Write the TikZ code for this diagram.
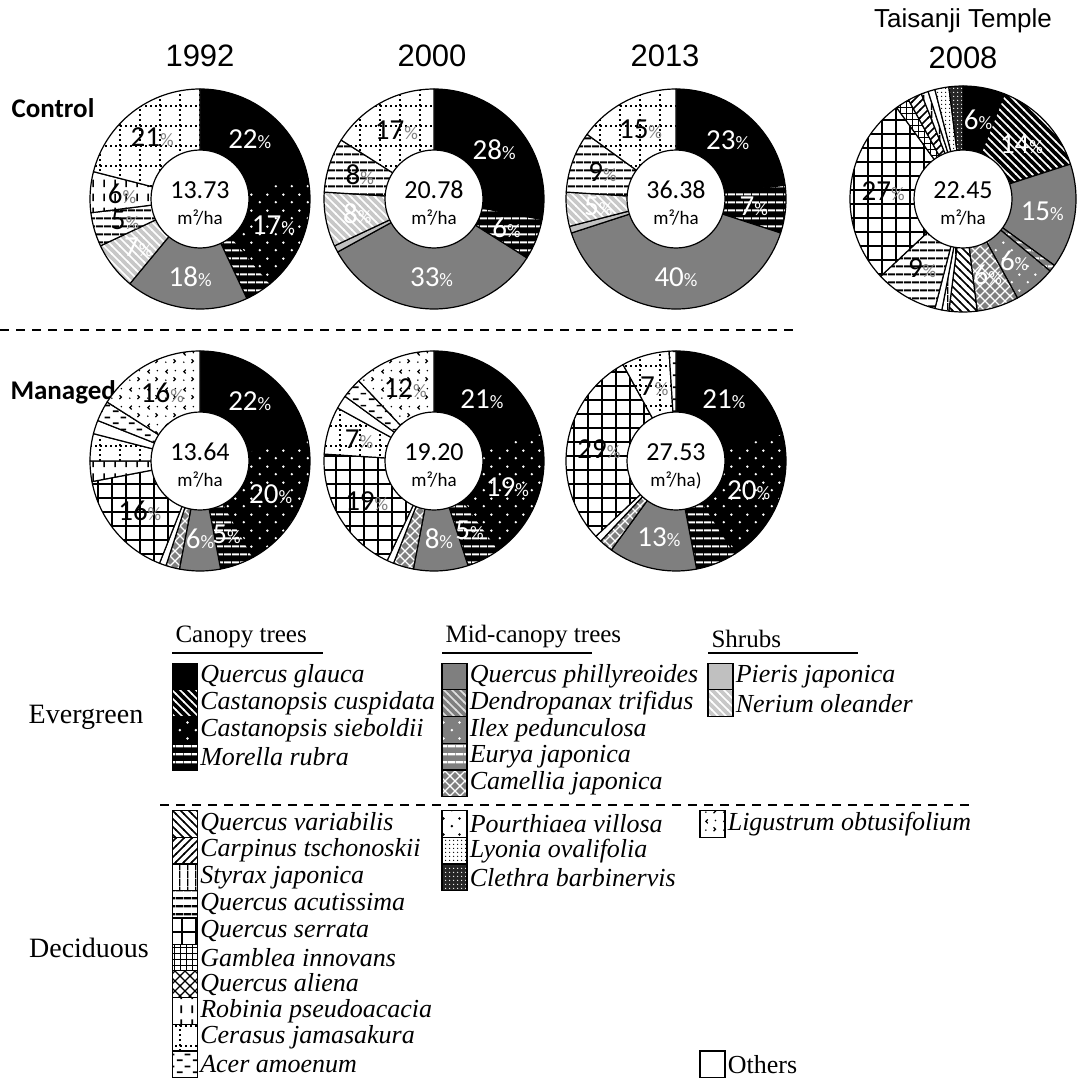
\documentclass[tikz,border=0pt]{standalone}
\usepackage{fontspec}
\setmainfont{Liberation Serif}
\newfontfamily\chartfont{Carlito}
\newfontfamily\headfont{Liberation Sans}
\usepackage{xcolor}
\usepackage{tikz}
\usetikzlibrary{patterns,positioning,calc}

\definecolor{midgray}{HTML}{7F7F7F}
\definecolor{lightgray}{HTML}{C0C0C0}
\definecolor{palegray}{HTML}{C8C8C8}

% fill patterns of the species
\pgfdeclarepatternformonly{hstripes}{\pgfpointorigin}{\pgfqpoint{8pt}{8pt}}{\pgfqpoint{8pt}{8pt}}{%
  \pgfsetlinewidth{2.4pt}%
  \pgfpathmoveto{\pgfqpoint{0pt}{4pt}}\pgfpathlineto{\pgfqpoint{8pt}{4pt}}\pgfusepath{stroke}}
\pgfdeclarepatternformonly{vstripes}{\pgfpointorigin}{\pgfqpoint{8pt}{8pt}}{\pgfqpoint{8pt}{8pt}}{%
  \pgfsetlinewidth{1.4pt}%
  \pgfpathmoveto{\pgfqpoint{4pt}{0pt}}\pgfpathlineto{\pgfqpoint{4pt}{8pt}}\pgfusepath{stroke}}
\pgfdeclarepatternformonly{nwstripes}{\pgfqpoint{-1pt}{-1pt}}{\pgfqpoint{9pt}{9pt}}{\pgfqpoint{8pt}{8pt}}{%
  \pgfsetlinewidth{1.6pt}%
  \pgfpathmoveto{\pgfqpoint{-1pt}{9pt}}\pgfpathlineto{\pgfqpoint{9pt}{-1pt}}\pgfusepath{stroke}}
\pgfdeclarepatternformonly{nestripes}{\pgfqpoint{-1pt}{-1pt}}{\pgfqpoint{9pt}{9pt}}{\pgfqpoint{8pt}{8pt}}{%
  \pgfsetlinewidth{1.6pt}%
  \pgfpathmoveto{\pgfqpoint{-1pt}{-1pt}}\pgfpathlineto{\pgfqpoint{9pt}{9pt}}\pgfusepath{stroke}}
\pgfdeclarepatternformonly{widegrid}{\pgfqpoint{-1pt}{-1pt}}{\pgfqpoint{15pt}{15pt}}{\pgfqpoint{14pt}{14pt}}{%
  \pgfsetlinewidth{1.8pt}%
  \pgfpathmoveto{\pgfqpoint{0pt}{-1pt}}\pgfpathlineto{\pgfqpoint{0pt}{15pt}}%
  \pgfpathmoveto{\pgfqpoint{-1pt}{0pt}}\pgfpathlineto{\pgfqpoint{15pt}{0pt}}\pgfusepath{stroke}}
\pgfdeclarepatternformonly{finegrid}{\pgfqpoint{-1pt}{-1pt}}{\pgfqpoint{7pt}{7pt}}{\pgfqpoint{6pt}{6pt}}{%
  \pgfsetlinewidth{1pt}%
  \pgfpathmoveto{\pgfqpoint{0pt}{-1pt}}\pgfpathlineto{\pgfqpoint{0pt}{7pt}}%
  \pgfpathmoveto{\pgfqpoint{-1pt}{0pt}}\pgfpathlineto{\pgfqpoint{7pt}{0pt}}\pgfusepath{stroke}}
\pgfdeclarepatternformonly{dotgrid}{\pgfqpoint{-1pt}{-1pt}}{\pgfqpoint{21pt}{21pt}}{\pgfqpoint{20pt}{20pt}}{%
  \pgfsetlinewidth{1.6pt}\pgfsetdash{{2pt}{3pt}}{0pt}%
  \pgfpathmoveto{\pgfqpoint{0pt}{0pt}}\pgfpathlineto{\pgfqpoint{0pt}{20pt}}%
  \pgfpathmoveto{\pgfqpoint{0pt}{0pt}}\pgfpathlineto{\pgfqpoint{20pt}{0pt}}\pgfusepath{stroke}}
\pgfdeclarepatternformonly{sparsedots}{\pgfpointorigin}{\pgfqpoint{16pt}{16pt}}{\pgfqpoint{16pt}{16pt}}{%
  \pgfpathcircle{\pgfqpoint{4pt}{4pt}}{1.4pt}%
  \pgfpathcircle{\pgfqpoint{12pt}{12pt}}{1.4pt}\pgfusepath{fill}}
\pgfdeclarepatternformonly{finedots}{\pgfpointorigin}{\pgfqpoint{4pt}{4pt}}{\pgfqpoint{4pt}{4pt}}{%
  \pgfpathcircle{\pgfqpoint{2pt}{2pt}}{0.8pt}\pgfusepath{fill}}
\pgfdeclarepatternformonly{vdashes}{\pgfpointorigin}{\pgfqpoint{11pt}{14pt}}{\pgfqpoint{11pt}{14pt}}{%
  \pgfsetlinewidth{1.8pt}%
  \pgfpathmoveto{\pgfqpoint{5.5pt}{3pt}}\pgfpathlineto{\pgfqpoint{5.5pt}{11pt}}\pgfusepath{stroke}}
\pgfdeclarepatternformonly{hdashes}{\pgfpointorigin}{\pgfqpoint{16pt}{12pt}}{\pgfqpoint{16pt}{12pt}}{%
  \pgfsetlinewidth{1.8pt}%
  \pgfpathmoveto{\pgfqpoint{1pt}{3pt}}\pgfpathlineto{\pgfqpoint{7pt}{3pt}}%
  \pgfpathmoveto{\pgfqpoint{9pt}{9pt}}\pgfpathlineto{\pgfqpoint{15pt}{9pt}}\pgfusepath{stroke}}
\pgfdeclarepatternformonly{ticks}{\pgfpointorigin}{\pgfqpoint{18pt}{18pt}}{\pgfqpoint{18pt}{18pt}}{%
  \pgfsetlinewidth{1.3pt}%
  \pgfpathmoveto{\pgfqpoint{6pt}{15pt}}\pgfpathlineto{\pgfqpoint{4pt}{13pt}}\pgfpathlineto{\pgfqpoint{6pt}{11pt}}%
  \pgfpathmoveto{\pgfqpoint{12pt}{7pt}}\pgfpathlineto{\pgfqpoint{14pt}{5pt}}\pgfpathlineto{\pgfqpoint{12pt}{3pt}}%
  \pgfusepath{stroke}%
  \pgfpathcircle{\pgfqpoint{14pt}{14pt}}{0.9pt}\pgfpathcircle{\pgfqpoint{4pt}{4pt}}{0.9pt}\pgfusepath{fill}}
\pgfdeclarepatternformonly{diamonds}{\pgfqpoint{-1pt}{-1pt}}{\pgfqpoint{11pt}{11pt}}{\pgfqpoint{10pt}{10pt}}{%
  \pgfsetlinewidth{1.3pt}%
  \pgfpathmoveto{\pgfqpoint{-1pt}{-1pt}}\pgfpathlineto{\pgfqpoint{11pt}{11pt}}%
  \pgfpathmoveto{\pgfqpoint{-1pt}{11pt}}\pgfpathlineto{\pgfqpoint{11pt}{-1pt}}\pgfusepath{stroke}}

\newcommand{\pcsign}{{\fontsize{19}{19}\selectfont\%}}
\newcommand{\pw}[1]{\textcolor{white}{#1\pcsign}}
\newcommand{\pb}[1]{#1\textcolor{gray}{\pcsign}}

% donut: centre, radius, slices (style/percent/label), value, unit
\newcommand{\donut}[5]{%
  \xdef\angA{90}%
  \foreach \kind/\share/\lbl in {#3}{%
    \pgfmathsetmacro\angB{\angA-3.6*\share}%
    \draw[slice,\kind] (#1) -- ++(\angA:#2) arc[start angle=\angA, end angle=\angB, radius=#2] -- cycle;
    \xdef\angA{\angB}%
  }%
  \xdef\angA{90}%
  \foreach \kind/\share/\lbl in {#3}{%
    \pgfmathsetmacro\angB{\angA-3.6*\share}%
    \pgfmathsetmacro\angM{(\angA+\angB)/2}%
    \node[pct] at ($(#1)+(\angM:0.71*#2)$) {\lbl};
    \xdef\angA{\angB}%
  }%
  \node[hole] (#1-hole) at (#1) {};
  \node[valtext] at ($(#1)+(0,9)$) {#4};
  \node[unittext] at ($(#1)+(0,-19)$) {#5};
}

\begin{document}
\begin{tikzpicture}
	[x=1pt, y=1pt,
	slice/.style={draw=black, line width=1.2pt, line join=round},
	bgpat/.style n args={3}{preaction={fill=#1}, pattern=#2, pattern color=#3},
	hole/.style={circle, fill=white, draw=black, line width=1.2pt, minimum size=98pt, inner sep=0pt},
	valtext/.style={font=\chartfont\fontsize{26}{26}\selectfont},
	unittext/.style={font=\chartfont\fontsize{19}{19}\selectfont},
	pct/.style={font=\chartfont\fontsize{29}{29}\selectfont, inner sep=0pt},
	yeartext/.style={font=\headfont\fontsize{31}{31}\selectfont},
	sitetext/.style={font=\headfont\fontsize{26}{26}\selectfont},
	rowtext/.style={font=\chartfont\bfseries\fontsize{27}{27}\selectfont, anchor=west},
	sep/.style={line width=1.8pt, dash pattern=on 9pt off 7pt},
	keybox/.style={draw=black, line width=1.2pt, minimum width=25pt, minimum height=26.7pt, inner sep=0pt},
	keytext/.style={font=\fontsize{26}{26}\selectfont\itshape, inner sep=1pt},
	grouptext/.style={font=\fontsize{25}{25}\selectfont},
	% species
	qglauca/.style={fill=black},
	ccuspidata/.style={bgpat={black}{nwstripes}{white}},
	csieboldii/.style={bgpat={black}{sparsedots}{white}},
	mrubra/.style={bgpat={black}{hstripes}{white}},
	qphilly/.style={fill=midgray},
	dtrifidus/.style={bgpat={midgray}{nwstripes}{white!75!midgray}},
	ipedunc/.style={bgpat={midgray}{sparsedots}{white}},
	ejaponica/.style={bgpat={midgray}{hstripes}{white}},
	cjaponica/.style={bgpat={midgray}{diamonds}{white}},
	pjaponica/.style={fill=lightgray},
	noleander/.style={bgpat={palegray}{nwstripes}{white}},
	qvariab/.style={bgpat={white}{nwstripes}{black}},
	ctschon/.style={bgpat={white}{nestripes}{black}},
	sjaponica/.style={bgpat={white}{vstripes}{black}},
	qacut/.style={bgpat={white}{hstripes}{black}},
	qserrata/.style={bgpat={white}{widegrid}{black}},
	ginnov/.style={bgpat={white}{finegrid}{black}},
	qaliena/.style={bgpat={white}{diamonds}{black}},
	rpseudo/.style={bgpat={white}{vdashes}{black}},
	cjamasak/.style={bgpat={white}{dotgrid}{black}},
	aamoen/.style={bgpat={white}{hdashes}{black}},
	pvillosa/.style={bgpat={white}{sparsedots}{black}},
	lovalif/.style={bgpat={white}{finedots}{black}},
	cbarbin/.style={bgpat={black!85}{finedots}{white}},
	lobtus/.style={bgpat={white}{ticks}{black}},
	others/.style={fill=white}]

	\useasboundingbox (0,0) rectangle (1081,-1086);

	% headings
	\node[yeartext] (y1992) at (200,-56) {1992};
	\node[yeartext] (y2000) at (432,-56) {2000};
	\node[yeartext] (y2013) at (665,-56) {2013};
	\node[sitetext] (site) at (963,-21) {Taisanji Temple};
	\node[yeartext] (y2008) at (963,-58) {2008};
	\node[rowtext] (control) at (8,-108) {Control};
	\node[rowtext] (managed) at (7,-392) {Managed};
	\draw[sep] (0,-330) -- (800,-330);

	\coordinate (c1992) at (200,-199);
	\coordinate (c2000) at (434,-199);
	\coordinate (c2013) at (676,-199);
	\coordinate (t2008) at (963,-199);
	\coordinate (m1992) at (200,-461);
	\coordinate (m2000) at (434,-461);
	\coordinate (m2013) at (676,-461);

	\donut{c1992}{110}{qglauca/22/\pw{22}, csieboldii/17/\pw{17}, mrubra/4/{}, qphilly/18/\pw{18},
		noleander/7/\pw{7}, qacut/5/\pb{5}, rpseudo/6/\pb{6}, cjamasak/21/\pb{21}}{13.73}{m²/ha}
	\donut{c2000}{110}{qglauca/28/\pw{28}, mrubra/6/\pw{6}, qphilly/33/\pw{33}, pjaponica/1/{},
		noleander/8/\pw{8}, qacut/8/\pb{8}, cjamasak/16/\pb{17}}{20.78}{m²/ha}
	\donut{c2013}{110}{qglauca/23/\pw{23}, mrubra/7/\pw{7}, qphilly/40/\pw{40}, pjaponica/1/{},
		noleander/5/\pw{5}, qacut/9/\pb{9}, cjamasak/15/\pb{15}}{36.38}{m²/ha}
	\donut{t2008}{113}{qglauca/6/\pw{6}, ccuspidata/14/\pw{14}, qphilly/15/\pw{15}, ejaponica/1/{},
		ipedunc/6/\pw{6}, cjaponica/6/\pw{6}, qvariab/4/{}, sjaponica/1/{}, others/1/{},
		qacut/9/\pb{9}, qserrata/27/\pb{27}, ginnov/2/{}, ctschon/2/{}, sjaponica/1/{},
		others/1/{}, lovalif/2/{}, cbarbin/2/{}}{22.45}{m²/ha}
	\donut{m1992}{110}{qglauca/22/\pw{22}, csieboldii/20/\pw{20}, mrubra/5/\pw{5}, qphilly/6/\pw{6},
		cjaponica/2/{}, others/1/{}, qserrata/16/\pb{16}, rpseudo/3/{}, cjamasak/4/{},
		others/2/{}, aamoen/3/{}, lobtus/16/\pb{16}}{13.64}{m²/ha}
	\donut{m2000}{110}{qglauca/21/\pw{21}, csieboldii/19/\pw{19}, mrubra/5/\pw{5}, qphilly/8/\pw{8},
		cjaponica/3/{}, others/1/{}, qserrata/19/\pb{19}, cjamasak/7/\pb{7}, others/2/{},
		aamoen/3/{}, lobtus/12/\pb{12}}{19.20}{m²/ha}
	\donut{m2013}{110}{qglauca/21/\pw{21}, csieboldii/20/\pw{20}, mrubra/6/{}, qphilly/13/\pw{13},
		cjaponica/2/{}, others/1/{}, qserrata/29/\pb{29}, cjamasak/7/\pb{7}, aamoen/1/{}}{27.53}{m²/ha)}

	% legend
	\node[grouptext, anchor=south west] (canopy) at (172,-651) {Canopy trees};
	\node[grouptext, anchor=south west] (midcanopy) at (442,-651) {Mid-canopy trees};
	\node[grouptext, anchor=south west] (shrubs) at (708,-651) {Shrubs};
	\draw[line width=1.4pt] (172,-653) -- (323,-653);
	\draw[line width=1.4pt] (442,-653) -- (592,-653);
	\draw[line width=1.4pt] (708,-653) -- (858,-653);
	\node[grouptext, font=\fontsize{28}{28}\selectfont] (evergreen) at (86,-717) {Evergreen};
	\node[grouptext, font=\fontsize{28}{28}\selectfont] (deciduous) at (89,-948) {Deciduous};

	\foreach \kind/\name [count=\i from 0] in {qglauca/Quercus glauca, ccuspidata/Castanopsis cuspidata,
		csieboldii/Castanopsis sieboldii, mrubra/Morella rubra}{
		\node[keybox,\kind] (can\i) at (185,{-676.5-26.7*\i}) {};
		\node[keytext, right=1pt of can\i] {\name};
	}
	\foreach \kind/\name [count=\i from 0] in {qphilly/Quercus phillyreoides, dtrifidus/Dendropanax trifidus,
		ipedunc/Ilex pedunculosa, ejaponica/Eurya japonica, cjaponica/Camellia japonica}{
		\node[keybox,\kind] (mid\i) at (454.5,{-676.5-26.7*\i}) {};
		\node[keytext, right=1pt of mid\i] {\name};
	}
	\foreach \kind/\name [count=\i from 0] in {pjaponica/Pieris japonica, noleander/Nerium oleander}{
		\node[keybox,\kind] (shr\i) at (720.5,{-676.5-26.7*\i}) {};
		\node[keytext, right=1pt of shr\i] {\name};
	}

	\draw[sep] (160,-805) -- (975,-805);

	\foreach \kind/\name [count=\i from 0] in {qvariab/Quercus variabilis, ctschon/Carpinus tschonoskii,
		sjaponica/Styrax japonica, qacut/Quercus acutissima, qserrata/Quercus serrata,
		ginnov/Gamblea innovans, qaliena/Quercus aliena, rpseudo/Robinia pseudoacacia,
		cjamasak/Cerasus jamasakura, aamoen/Acer amoenum}{
		\node[keybox,\kind] (dec\i) at (185,{-824-26.7*\i}) {};
		\node[keytext, right=1pt of dec\i] {\name};
	}
	\foreach \kind/\name [count=\i from 0] in {pvillosa/Pourthiaea villosa, lovalif/Lyonia ovalifolia,
		cbarbin/Clethra barbinervis}{
		\node[keybox,\kind] (dmid\i) at (454.5,{-824-26.7*\i}) {};
		\node[keytext, right=1pt of dmid\i] {\name};
	}
	\node[keybox,lobtus] (dshr0) at (712.5,-824) {};
	\node[keytext, right=1pt of dshr0] {Ligustrum obtusifolium};
	\node[keybox,others] (oth) at (712.5,{-824-26.7*9}) {};
	\node[keytext, right=1pt of oth, font=\fontsize{26}{26}\selectfont\upshape] {Others};
\end{tikzpicture}
\end{document}
